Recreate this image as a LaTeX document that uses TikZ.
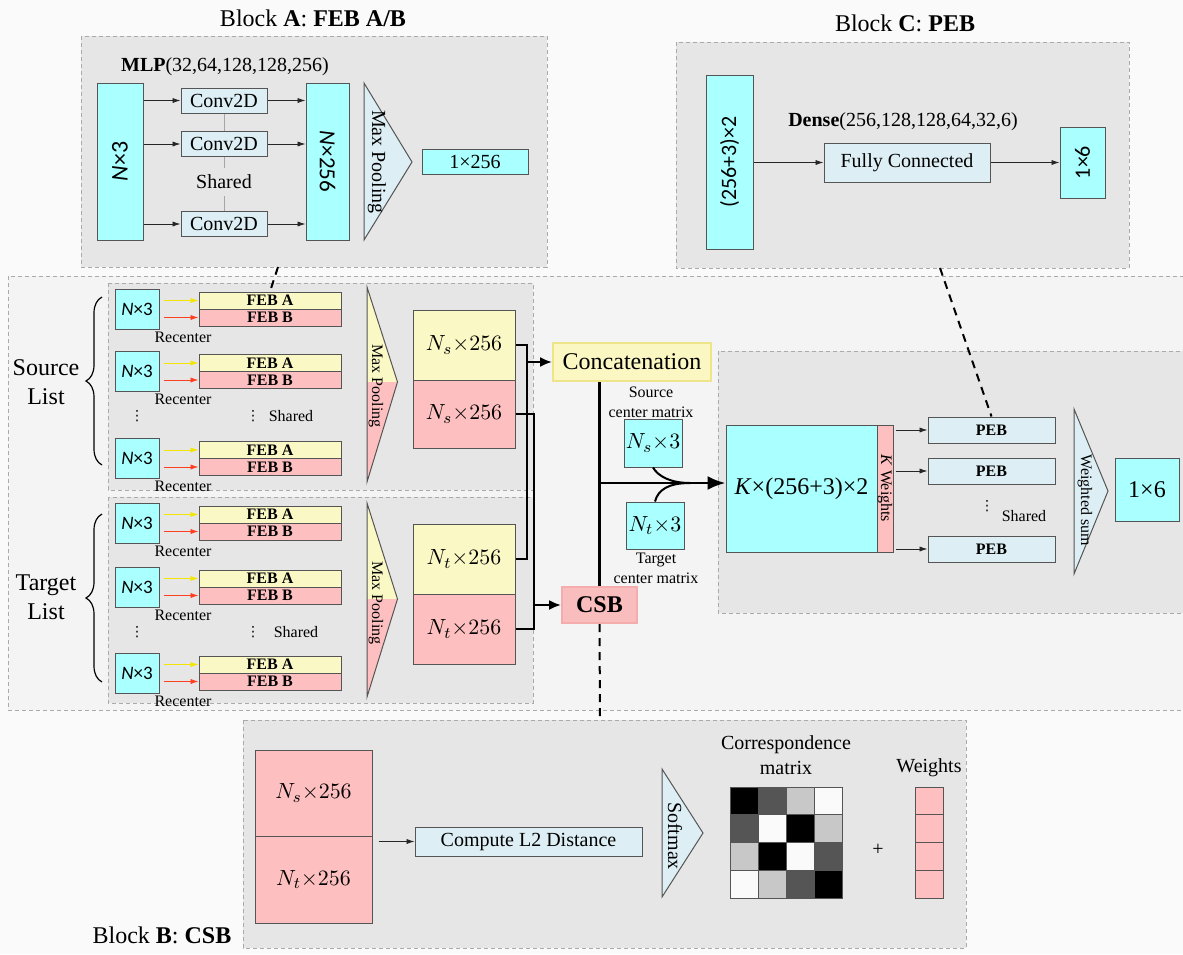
\documentclass[tikz,border=0pt]{standalone}
\usepackage{fontspec}
\setmainfont{Liberation Serif}
\newfontfamily\calib{Carlito}
\newfontfamily\dejavu{DejaVu Sans}
\usetikzlibrary{arrows.meta,decorations.pathreplacing}

\definecolor{bgpage}{HTML}{FAFAFA}
\definecolor{bgband}{HTML}{F4F4F4}
\definecolor{blockfill}{HTML}{E6E6E6}
\definecolor{dashgray}{HTML}{AAAAAA}
\definecolor{cyanbox}{HTML}{AAFFFF}
\definecolor{lblue}{HTML}{DDEFF5}
\definecolor{featY}{HTML}{FAF8C4}
\definecolor{featP}{HTML}{FDBFBF}
\definecolor{edge}{HTML}{555555}
\definecolor{yarrow}{HTML}{F2E600}
\definecolor{rarrow}{HTML}{FF4020}
\definecolor{catfill}{HTML}{FBF7C2}
\definecolor{catedge}{HTML}{EEE48A}
\definecolor{csbfill}{HTML}{F9BDBD}
\definecolor{csbedge}{HTML}{F5ACAC}
\definecolor{g0}{HTML}{000000}
\definecolor{g1}{HTML}{555555}
\definecolor{g2}{HTML}{C8C8C8}
\definecolor{g3}{HTML}{FAFAFA}

\newcommand\fbig{\fontsize{12}{14.5}\selectfont}
\newcommand\fnum{\fontsize{11}{13}\selectfont}
\newcommand\fmed{\fontsize{10}{12.5}\selectfont}
\newcommand\fsml{\fontsize{8}{10}\selectfont}
\newcommand\fnx{\calib\fontsize{9.5}{11}\selectfont}
\newcommand\vdts{{\dejavu\fontsize{7}{8}\selectfont ⋮}}

\tikzset{
  sz/.style 2 args={minimum width=#1*0.5pt, minimum height=#2*0.5pt},
  band/.style={fill=bgband, draw=dashgray, dash pattern=on 2pt off 1.5pt, line width=0.4pt},
  block/.style={fill=blockfill, draw=dashgray, dash pattern=on 2pt off 1.5pt, line width=0.4pt},
  cbox/.style={draw=edge, fill=cyanbox, inner sep=0pt, line width=0.5pt},
  lbbox/.style={draw=edge, fill=lblue, inner sep=0pt, line width=0.5pt},
  featbox/.style={draw=edge, inner sep=0pt, line width=0.5pt},
  febA/.style={featbox, fill=featY, sz={142}{17}, font=\fsml\bfseries},
  febB/.style={featbox, fill=featP, sz={142}{17}, font=\fsml\bfseries},
  tri/.style={draw=edge, fill=lblue, line width=0.5pt},
  arr/.style={-{Latex[length=4pt,width=2.6pt]}, line width=0.4pt, draw=black!85},
  yarr/.style={arr, draw=yarrow},
  rarr/.style={arr, draw=rarrow},
  link/.style={line width=1pt, draw=black},
  bus/.style={line width=1.4pt, draw=black},
  dlink/.style={line width=1pt, dash pattern=on 4pt off 3pt},
  shareline/.style={draw=black!35, line width=0.5pt},
  lbrace/.style={decorate, decoration={brace, amplitude=8pt}, line width=0.6pt},
  cell/.style={draw=edge, line width=0.4pt, inner sep=0pt, sz={28}{27.75}},
  dots/.style={inner sep=0pt},
}

\begin{document}
\begin{tikzpicture}[x=0.5pt,y=-0.5pt]
  \useasboundingbox (0,0) rectangle (1183,954);
  \fill[bgpage] (0,0) rectangle (1183,954);

  % bands and blocks
  \draw[band] (8,276) rectangle (1184,710);
  \draw[block] (81,36) rectangle (547,267);
  \draw[block] (676,42) rectangle (1129,268);
  \draw[block] (108,283) rectangle (533,490);
  \draw[block] (108,497) rectangle (533,703);
  \draw[block] (718,351) rectangle (1184,613);
  \draw[block] (243,720) rectangle (966,948);

  \node[font=\fbig] (tA) at (313,18) {Block \textbf{A}: \textbf{FEB A/B}};
  \node[font=\fbig] (tC) at (905,23) {Block \textbf{C}: \textbf{PEB}};
  \node[font=\fbig] (tB) at (162,935) {Block \textbf{B}: \textbf{CSB}};

  % Block A
  \node[font=\fmed] (mlp) at (225,67) {\textbf{MLP}(32,64,128,128,256)};
  \node[cbox, sz={46}{157}] (nA3) at (120,161.5) {\rotatebox{90}{\calib\fontsize{12}{14}\selectfont\textit{N}×3}};
  \node[cbox, sz={43}{157}] (nA256) at (327.5,161.5) {\rotatebox{-90}{\calib\fontsize{11.5}{14}\selectfont\textit{N}×256}};
  \node[lbbox, sz={86}{25}, font=\fmed] (cv1) at (224,100.5) {Conv2D};
  \node[lbbox, sz={86}{25}, font=\fmed] (cv2) at (224,144) {Conv2D};
  \node[lbbox, sz={86}{25}, font=\fmed] (cv3) at (224,224) {Conv2D};
  \node[font=\fmed] (shA) at (224,182) {Shared};
  \draw[shareline] (cv1) -- (cv2);
  \draw[shareline] (cv2) -- (shA);
  \draw[shareline] (shA) -- (cv3);
  \foreach \c in {cv1,cv2,cv3}{
    \draw[arr] (nA3.east |- \c.west) -- (\c.west);
    \draw[arr] (\c.east) -- (nA256.west |- \c.east);
  }
  \draw[tri] (364,83) -- (412,162) -- (364,240) -- cycle;
  \node[font=\fmed] (mpA) at (377,162) {\rotatebox{-90}{Max Pooling}};
  \node[cbox, sz={106}{25}, font=\fmed] (nA1) at (475,161.5) {1×256};

  % Block C
  \node[cbox, sz={47}{174}] (nC) at (729.5,162) {\rotatebox{90}{\calib\fontsize{11}{13}\selectfont(256+3)×2}};
  \node[font=\fmed] (dense) at (903,122) {\textbf{Dense}(256,128,128,64,32,6)};
  \node[lbbox, sz={166}{39}, font=\fmed] (fc) at (907,162.5) {Fully Connected};
  \node[cbox, sz={45}{71}] (nC6) at (1082.5,162.5) {\rotatebox{90}{\calib\fontsize{11}{13}\selectfont 1×6}};
  \draw[arr] (nC.east |- fc.west) -- (fc.west);
  \draw[arr] (fc.east) -- (nC6.west);

  % source and target lists
  \foreach \yc/\nm in {309/s1,371.5/s2,458.5/s3,523/t1,587/t2,673/t3}{
    \node[cbox, sz={44}{40}, font=\fnx] (in\nm) at (137,\yc) {\textit{N}×3};
    \node[febA] (fa\nm) at (270,\yc-8.5) {FEB A};
    \node[febB] (fb\nm) at (270,\yc+8.5) {FEB B};
    \draw[yarr] ([xshift=2pt]in\nm.east |- fa\nm.west) -- (fa\nm.west);
    \draw[rarr] ([xshift=2pt]in\nm.east |- fb\nm.west) -- (fb\nm.west);
    \node[font=\fsml] (rc\nm) at (183,\yc+28) {Recenter};
  }
  \foreach \y/\nm/\sx in {416/s/291,632/t/296}{
    \node[dots] (dl\nm) at (137,\y) {\vdts};
    \node[dots] (dm\nm) at (253,\y) {\vdts};
    \node[font=\fsml] (sh\nm) at (\sx,\y) {Shared};
  }
  \draw[lbrace] (102,465) -- (102,297);
  \draw[lbrace] (102,682) -- (102,514);
  \node[font=\fbig, align=center] (srcL) at (46,382) {Source\\List};
  \node[font=\fbig, align=center] (tgtL) at (46,597) {Target\\List};

  \foreach \t/\m/\b/\nm in {287/382/482/S,503/599/697/T}{
    \fill[featY] (367,\t) -- (397.5,\m) -- (367,\m) -- cycle;
    \fill[featP] (367,\m) -- (397.5,\m) -- (367,\b) -- cycle;
    \draw[draw=edge, line width=0.5pt] (367,\t) -- (397.5,\m) -- (367,\b) -- cycle;
    \node[font=\fsml] (mp\nm) at (376,\m+4) {\rotatebox{-90}{Max Pooling}};
  }

  \node[featbox, fill=featY, sz={102}{70}, font=\fnum] (nsA) at (464,345) {$N_s{\times}256$};
  \node[featbox, fill=featP, sz={102}{68}, font=\fnum] (nsB) at (464,414) {$N_s{\times}256$};
  \node[featbox, fill=featY, sz={102}{70}, font=\fnum] (ntA) at (464,559) {$N_t{\times}256$};
  \node[featbox, fill=featP, sz={102}{70}, font=\fnum] (ntB) at (464,629) {$N_t{\times}256$};

  % concatenation and CSB
  \node[fill=catfill, draw=catedge, line width=1pt, inner sep=0pt, sz={158}{38}, font=\fbig] (cat) at (632,362) {Concatenation};
  \node[fill=csbfill, draw=csbedge, line width=1pt, inner sep=0pt, sz={75}{36}, font=\fbig\bfseries] (csb) at (599.5,605) {CSB};
  \coordinate (jy) at (527,362);
  \coordinate (jp) at (534,605);
  \draw[link, -{Latex[length=6pt,width=5pt]}] (nsA.east) -| (jy) -- (cat.west);
  \draw[link] (ntA.east) -| (jy);
  \draw[link, -{Latex[length=6pt,width=5pt]}] (nsB.east) -| (jp) -- (csb.west);
  \draw[link] (ntB.east) -| (jp);

  \node[cbox, sz={58}{48}, font=\fnum] (nss) at (653,443) {$N_s{\times}3$};
  \node[cbox, sz={58}{47}, font=\fnum] (nts) at (655,525.5) {$N_t{\times}3$};
  \node[font=\fsml, align=center] (scm) at (651,402) {Source\\center matrix};
  \node[font=\fsml, align=center] (tcm) at (656,568) {Target\\center matrix};

  % right block
  \node[cbox, sz={151}{127}, font=\fbig] (kbox) at (801.5,488.5) {\textit{K}×(256+3)×2};
  \node[featbox, fill=featP, sz={16}{127}] (kw) at (885,488.5) {\rotatebox{-90}{\fsml\textit{K} Weights}};

  \draw[bus] (csb.north |- cat.south) -- (csb.north);
  \coordinate (jm) at (600,483);
  \coordinate (jc) at (690,483);
  \draw[bus, -{Latex[length=9pt,width=7pt]}] (jm) -- (jm -| kbox.west);
  \draw[link] (nss.south) .. controls (658,476) and (670,483) .. (jc);
  \draw[link] (nts.north) .. controls (658,490) and (668,483) .. (jc);

  \foreach \y/\i in {430/1,471/2,549/3}{
    \node[lbbox, sz={127}{26}, font=\fsml\bfseries] (peb\i) at (991.5,\y) {PEB};
    \draw[arr] ([xshift=1pt]kw.east |- peb\i.west) -- (peb\i.west);
  }
  \node[dots] (dp) at (987,506) {\vdts};
  \node[font=\fsml] (shp) at (1024,516) {Shared};
  \draw[tri] (1074,409) -- (1108,491) -- (1074,574) -- cycle;
  \node[font=\fsml] (ws) at (1085,500) {\rotatebox{-90}{Weighted sum}};
  \node[cbox, sz={64}{63}, font=\fbig] (out) at (1147,489.5) {1×6};

  % dashed links between blocks
  \coordinate (aBot) at (278,267);
  \coordinate (cBot) at (940,268);
  \coordinate (bTop) at (600,720);
  \draw[dlink] (aBot) -- (fas1.north);
  \draw[dlink] (cBot) -- (peb1.north);
  \draw[dlink] (csb.south) -- (bTop);

  % Block B
  \node[featbox, fill=featP, sz={117}{86}, font=\fnum] (bs) at (313.5,793) {$N_s{\times}256$};
  \node[featbox, fill=featP, sz={117}{87}, font=\fnum] (bt) at (313.5,879.5) {$N_t{\times}256$};
  \node[lbbox, sz={227}{29}, font=\fmed] (l2) at (528.5,841.5) {Compute L2 Distance};
  \draw[arr] ([xshift=3pt]l2.west -| bs.east) -- (l2.west);
  \draw[tri] (662,769) -- (703,833) -- (662,897) -- cycle;
  \node[font=\fmed] (smx) at (675,836) {\rotatebox{-90}{Softmax}};
  \foreach \row [count=\r from 0] in {{0,1,2,3},{1,3,0,2},{2,0,3,1},{3,2,1,0}}{
    \foreach \v [count=\c from 0] in \row{
      \node[cell, fill=g\v] (m\r\c) at (744+28*\c,800.9+27.75*\r) {};
    }
  }
  \node[font=\fmed, align=center] (cml) at (786,755) {Correspondence\\matrix};
  \node[font=\fmed] (plus) at (878,850) {+};
  \foreach \r in {0,...,3}{
    \node[featbox, fill=featP, sz={28}{27.75}] (w\r) at (929,800.9+27.75*\r) {};
  }
  \node[font=\fmed] (wl) at (929,768) {Weights};
\end{tikzpicture}
\end{document}
